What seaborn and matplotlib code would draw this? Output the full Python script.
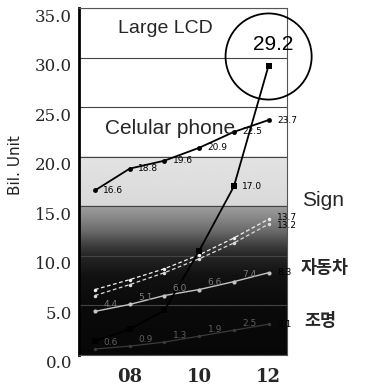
import numpy as np
import pandas as pd
import matplotlib
matplotlib.use("Agg")
import matplotlib.pyplot as plt
import matplotlib.transforms as mtransforms
import seaborn as sns

# ---- data (billion units) ----
years = [7, 8, 9, 10, 11, 12]
xtick_pos = [8, 10, 12]
xtick_labels = ["08", "10", "12"]
ytick_vals = [0, 5, 10, 15, 20, 25, 30, 35]

cellular = [16.6, 18.8, 19.6, 20.9, 22.5, 23.7]
large_lcd = [1.4, 2.6, 4.5, 10.5, 17.0, 29.2]
sign = [6.6, 7.6, 8.7, 10.1, 11.8, 13.7]
sign_b = [6.0, 7.1, 8.3, 9.7, 11.3, 13.2]
car = [4.4, 5.1, 6.0, 6.6, 7.4, 8.3]
lighting = [0.6, 0.9, 1.3, 1.9, 2.5, 3.1]

series = {
    "Celular phone": cellular,
    "Large LCD": large_lcd,
    "Sign": sign,
    "Sign B": sign_b,
    "자동차": car,
    "조명": lighting,
}

df = pd.concat(
    [pd.DataFrame({"year": years, "value": v, "series": k}) for k, v in series.items()],
    ignore_index=True,
)

sns.set_theme(style="white")
plt.rcParams["font.family"] = ["DejaVu Sans", "Noto Sans CJK KR"]

fig = plt.figure(figsize=(3.71, 3.87), dpi=100)
ax = fig.add_axes([79 / 371, 1 - 355 / 387, 208 / 371, 347 / 387])

xmin, xmax = 6.54, 12.53
ax.set_xlim(xmin, xmax)
ax.set_ylim(0, 35)

# shaded background: light band above 15, darkening towards zero
yy = np.linspace(0, 20, 400)
gray = np.interp(yy, [0, 5, 8, 10, 11, 12.5, 14, 14.99, 15.0, 20],
                 [0.03, 0.04, 0.07, 0.15, 0.24, 0.42, 0.55, 0.62, 0.85, 0.89])
ax.imshow(np.tile(gray[:, None], (1, 10)), extent=(xmin, xmax, 0, 20),
          origin="lower", aspect="auto", cmap="gray", vmin=0, vmax=1,
          interpolation="bilinear", zorder=0)

ax.set_yticks(ytick_vals)
ax.yaxis.grid(True, color="#444444", lw=0.8)
ax.set_axisbelow(True)

styles = {
    "Celular phone": dict(color="black", marker="o", ms=3.5, lw=1.3, ls="-"),
    "Large LCD": dict(color="black", marker="s", ms=4.5, lw=1.3, ls="-"),
    "Sign": dict(color="#f2f2f2", marker="o", ms=2.5, lw=0.9, ls=(0, (3, 2))),
    "Sign B": dict(color="#dcdcdc", marker="o", ms=2.5, lw=0.9, ls=(0, (3, 2))),
    "자동차": dict(color="#c4c4c4", marker="o", ms=3, lw=1.0, ls="-"),
    "조명": dict(color="#3a3a3a", marker="o", ms=2.5, lw=0.9, ls="-"),
}
for name in ["조명", "자동차", "Sign B", "Sign", "Large LCD", "Celular phone"]:
    st = styles[name]
    sns.lineplot(data=df[df["series"] == name], x="year", y="value", ax=ax,
                 color=st["color"], marker=st["marker"], markersize=st["ms"],
                 markeredgewidth=0, linewidth=st["lw"], linestyle=st["ls"],
                 legend=False, zorder=3)

# value labels
def label_points(vals, color, which=None, dy=0):
    idx = range(len(years)) if which is None else which
    for i in idx:
        ax.annotate(f"{vals[i]:.1f}", (years[i], vals[i]), xytext=(6, dy),
                    textcoords="offset points", ha="left", va="center",
                    fontsize=6.5, color=color, annotation_clip=False, zorder=4)

label_points(cellular, "black")
label_points(large_lcd, "black", which=[4])
label_points(sign, "black", which=[5], dy=1)
label_points(sign_b, "black", which=[5], dy=-1)
label_points(car, "black", which=[5])
label_points(lighting, "black", which=[5])
label_points(car, "#7a7a7a", which=[0, 1, 2, 3, 4], dy=5)
label_points(lighting, "#5e5e5e", which=[0, 1, 2, 3, 4], dy=5)

# highlighted final value of Large LCD
circ_tr = mtransforms.offset_copy(ax.transData, fig=fig, x=0, y=9, units="dots")
ax.scatter([years[-1]], [large_lcd[-1]], s=62 ** 2, facecolors="none",
           edgecolors="black", linewidths=1.3, transform=circ_tr,
           clip_on=False, zorder=5)
ax.annotate(f"{large_lcd[-1]:.1f}", (years[-1], large_lcd[-1]), xytext=(3, 15),
            textcoords="offset points", ha="center", va="center",
            fontsize=15, family="Liberation Sans", color="black",
            annotation_clip=False, zorder=6)

ax.text(0.413, 0.942, "Large LCD", transform=ax.transAxes, ha="center",
        va="center", fontsize=14, family="Liberation Sans", zorder=6)
ax.text(0.4375, 0.654, "Celular phone", transform=ax.transAxes, ha="center",
        va="center", fontsize=15, family="Liberation Sans", zorder=6)

fig.text(0.871, 0.483, "Sign", ha="center", va="center", fontsize=15,
         family="Liberation Sans")
fig.text(0.874, 0.307, "자동차", ha="center", va="center", fontsize=12.5,
         family="Noto Sans CJK KR", fontweight="bold")
fig.text(0.863, 0.171, "조명", ha="center", va="center", fontsize=12.5,
         family="Noto Sans CJK KR", fontweight="bold")

# axes decoration
ax.set_xticks(xtick_pos)
ax.set_xticklabels(xtick_labels, family="DejaVu Serif", fontweight="bold",
                   fontsize=13)
ax.set_yticklabels([f"{v:.1f}" for v in ytick_vals], family="DejaVu Serif",
                   fontsize=12)
ax.tick_params(axis="both", length=0)
ax.tick_params(axis="y", pad=5)
ax.tick_params(axis="x", pad=9)
shift = mtransforms.ScaledTranslation(0, -7 / 100, fig.dpi_scale_trans)
for lab in ax.get_yticklabels():
    lab.set_transform(lab.get_transform() + shift)

ax.set_xlabel("")
ax.set_ylabel("Bil. Unit", fontsize=11, color="#222222")
ax.yaxis.set_label_coords(-0.27, 0.548)

for side in ["top", "right", "bottom"]:
    ax.spines[side].set_color("#555555")
    ax.spines[side].set_linewidth(0.8)
ax.spines["left"].set_color("black")
ax.spines["left"].set_linewidth(2)

fig.savefig("out.png", dpi=100)
